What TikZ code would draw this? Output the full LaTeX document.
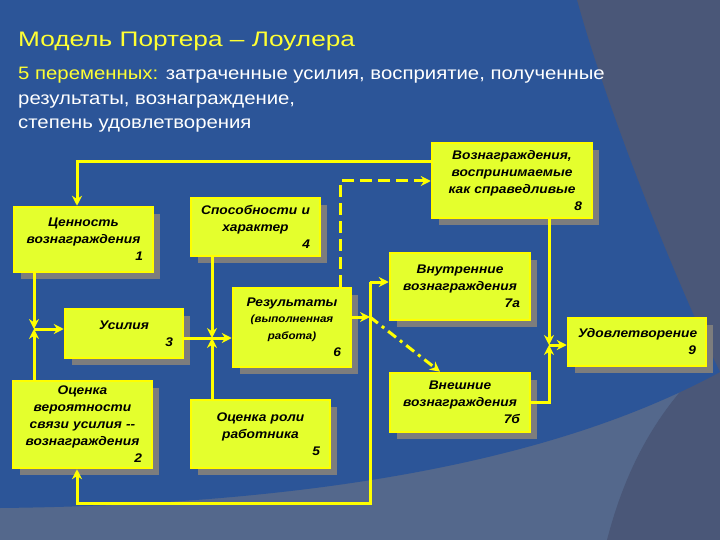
\documentclass[tikz,border=0pt]{standalone}
\usepackage{fontspec}
\setmainfont{Liberation Sans}
\newfontfamily\headfont[FakeStretch=1.25]{Liberation Sans}
\newfontfamily\subfont[FakeStretch=1.13]{Liberation Sans}
\newfontfamily\boxfont[FakeStretch=1.1]{Liberation Sans}
\usetikzlibrary{arrows.meta, shadows, calc}

\definecolor{bgblue}{RGB}{44,85,152}
\definecolor{bggray}{RGB}{84,104,140}
\definecolor{bgside}{RGB}{74,87,120}
\definecolor{boxfill}{RGB}{228,255,45}
\definecolor{boxline}{RGB}{255,255,0}
\definecolor{shade}{RGB}{125,125,125}
\definecolor{titleyel}{RGB}{255,255,51}

\newcommand{\bnum}[1]{\\\hbox to\hsize{\hfil#1}}

\begin{document}
\begin{tikzpicture}[x=1pt, y=-1pt,
  box/.style 2 args={draw=boxline, fill=boxfill, line width=2.5pt, inner sep=0pt,
    minimum width=#1pt, minimum height=#2pt, text width=#1pt-20pt, align=center,
    font=\boxfont\bfseries\itshape\fontsize{12.5}{17}\selectfont,
    drop shadow={shadow xshift=7pt, shadow yshift=-7pt, fill=shade, opacity=1}},
  link/.style={draw=boxline, line width=3pt},
  arr/.style={link, -{Stealth[length=10pt, width=10pt]}},
  dashdot/.style={dash pattern=on 10pt off 5pt on 3pt off 5pt},
  dashline/.style={dash pattern=on 12pt off 6pt}]
   % background
   \useasboundingbox (0,0) rectangle (720,540);
   \fill[bggray] (0,0) rectangle (720,540);
   \fill[bgside] (500,0) -- (720,0) -- (720,540) -- (607,540)
     .. controls (625,470) and (655,415) .. (700,370) -- (500,370) -- cycle;
   \fill[bgblue] (0,0) -- (577,0) .. controls (610,120) and (680,290) .. (720,372)
     .. controls (540,470) and (280,505) .. (0,508) -- cycle;

   % heading
   \node[anchor=base west, text=titleyel, font=\headfont\fontsize{21}{26}\selectfont, inner sep=0pt]
     (title) at (18,47) {Модель Портера – Лоулера};
   \node[anchor=north west, text=white, align=left, inner sep=0pt,
     font=\subfont\fontsize{18}{24.5}\selectfont] (vars) at (18,67)
     {\textcolor{titleyel}{5 переменных:} затраченные усилия, восприятие, полученные\\
      результаты, вознаграждение,\\степень удовлетворения};

   % boxes
   \node[box={139}{65}] (val)  at (83.5,239.5) {Ценность\\вознаграждения\bnum{1}};
   \node[box={139}{87}] (prob) at (82.5,424.5) {Оценка\\вероятности\\связи усилия -{}-\\вознаграждения\bnum{2}};
   \node[box={118}{49}] (eff)  at (124,333.5) {Усилия\bnum{3}};
   \node[box={129}{58}] (abil) at (255.5,227) {Способности и\\характер\bnum{4}};
   \node[box={139}{68}] (role) at (260.5,434) {Оценка роли\\работника\bnum{5}};
   \node[box={118}{79}] (res)  at (292,327.5)
     {Результаты\\{\fontsize{10.5}{15.5}\selectfont (выполненная\\работа)}\bnum{6}};
   \node[box={140}{67}] (intr) at (460,286.5) {Внутренние\\вознаграждения\bnum{7а}};
   \node[box={140}{59}] (extr) at (460,402.5) {Внешние\\вознаграждения\bnum{7б}};
   \node[box={160}{75}] (fair) at (512,180.5) {Вознаграждения,\\воспринимаемые\\как справедливые\bnum{8}};
   \node[box={138}{48}] (sat)  at (637,342) {Удовлетворение\bnum{9}};

   % junctions and bends
   \coordinate (j1) at (34,329);
   \coordinate (j2) at (212,338);
   \coordinate (j3) at (370,317);
   \coordinate (j4) at (549,345);
   \coordinate (top) at (77,162);
   \coordinate (bot) at (77,503);
   \coordinate (up) at (370,282);
   \coordinate (dk) at (340,181);

   % connectors
   \draw[arr] (val.south -| j1) -- (j1);
   \draw[arr] (prob.north -| j1) -- (j1);
   \draw[arr] (j1) -- (j1 -| eff.west);
   \draw[link] (eff.east |- j2) -- (j2);
   \draw[arr] (abil.south -| j2) -- (j2);
   \draw[arr] (role.north -| j2) -- (j2);
   \draw[arr] (j2) -- (j2 -| res.west);
   \draw[arr] (res.east |- j3) -- (j3);
   \draw[arr] (up) -- (up -| intr.west);
   \draw[arr] (up) -- (bot -| up) -- (bot) -- (bot |- prob.south);
   \draw[arr, dashdot] (j3) -- ($(extr.north)+(-20,0)$);
   \draw[arr, dashline] (res.north -| dk) -- (dk) -- (dk -| fair.west);
   \draw[arr] (fair.west |- top) -- (top) -- (top |- val.north);
   \draw[arr] (fair.south -| j4) -- (j4);
   \draw[arr] (extr.east) -| (j4);
   \draw[arr] (j4) -- (j4 -| sat.west);
\end{tikzpicture}
\end{document}
